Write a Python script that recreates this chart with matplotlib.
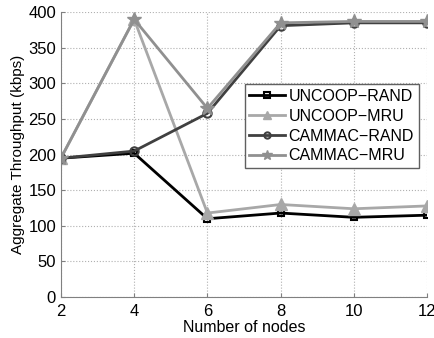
import matplotlib
matplotlib.use('Agg')
import matplotlib.pyplot as plt

plt.rcParams['font.family'] = ['Liberation Sans', 'DejaVu Sans']

nodes = [2, 4, 6, 8, 10, 12]
uncoop_rand = [195, 202, 110, 118, 112, 115]
uncoop_mru = [195, 390, 118, 130, 124, 128]
cammac_rand = [195, 205, 258, 381, 385, 385]
cammac_mru = [195, 390, 265, 385, 387, 387]

fig = plt.figure(figsize=(4.35, 3.38), dpi=100)
ax = fig.add_axes([0.140, 0.121, 0.842, 0.843])

ax.plot(nodes, uncoop_rand, color='black', marker='s', ms=5, mfc='none', mew=1.5, lw=2, label='UNCOOP\u2212RAND')
ax.plot(nodes, uncoop_mru, color='#a8a8a8', marker='^', ms=8, lw=2, label='UNCOOP\u2212MRU')
ax.plot(nodes, cammac_rand, color='#404040', marker='o', ms=6, mfc='none', mew=1.5, lw=2, label='CAMMAC\u2212RAND')
ax.plot(nodes, cammac_mru, color='#909090', marker='*', ms=10, lw=2, label='CAMMAC\u2212MRU')

ax.set_xlim(2, 12)
ax.set_ylim(0, 400)
ax.set_xticks(nodes)
ax.set_yticks(range(0, 401, 50))
ax.grid(True, linestyle=':', color='#b0b0b0', lw=0.8)
for s in ['top', 'right']:
    ax.spines[s].set_visible(False)
for s in ['left', 'bottom']:
    ax.spines[s].set_color('#808080')
ax.tick_params(labelsize=12, direction='in', colors='#808080', labelcolor='black', length=3)
ax.tick_params(axis='x', pad=5)
ax.set_xlabel('Number of nodes', fontsize=11.5, labelpad=1)
ax.set_ylabel('Aggregate Throughput (kbps)', fontsize=11, labelpad=2)

leg = ax.legend(loc='upper right', bbox_to_anchor=(0.977, 0.747), fontsize=11.5, fancybox=False,
                framealpha=1, edgecolor='#606060', handlelength=2.2, handletextpad=0.25,
                borderpad=0.3, labelspacing=0.3, markerscale=0.75, borderaxespad=0)
leg.get_frame().set_linewidth(1)

fig.savefig('out.png', dpi=100)
